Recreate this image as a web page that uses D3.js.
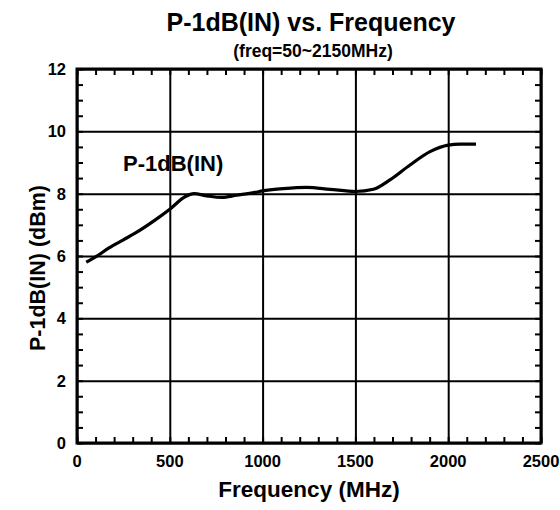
<!DOCTYPE html>
<html>
<head>
<meta charset="utf-8">
<script src="https://cdn.jsdelivr.net/npm/d3@7"></script>
<style>
  body { margin: 0; background: #fff; }
  svg text { font-family: "Liberation Sans", Arial, sans-serif; font-weight: bold; fill: #000; }
</style>
</head>
<body>
<svg id="chart" width="560" height="510"></svg>
<script>
// Curve
const freqs = [50, 100, 170, 250, 313, 420, 500, 582, 630, 700, 780, 860, 959, 1000, 1112, 1237, 1363, 1500, 1597, 1686, 1794, 1902, 2000, 2064, 2150];
const p1db  = [5.8, 5.97, 6.25, 6.52, 6.73, 7.15, 7.5, 7.9, 8.0, 7.93, 7.88, 7.95, 8.04, 8.09, 8.16, 8.2, 8.14, 8.07, 8.14, 8.44, 8.92, 9.35, 9.56, 9.59, 9.59];

const xTicks = [0, 500, 1000, 1500, 2000, 2500];
const yTicks = [0, 2, 4, 6, 8, 10, 12];
const xMinor = d3.range(0, 2501, 100);
const yMinor = d3.range(0, 12.01, 0.5);

const svg = d3.select('#chart');
const m = { left: 77, right: 541, top: 69, bottom: 443 };
const w = m.right - m.left, h = m.bottom - m.top;

const x = d3.scaleLinear().domain([0, 2500]).range([m.left, m.right]);
const y = d3.scaleLinear().domain([0, 12]).range([m.bottom, m.top]);

// Grid lines
svg.append('g')
  .attr('transform', `translate(0, ${m.bottom})`)
  .call(d3.axisBottom(x).tickValues(xTicks).tickSize(-h).tickFormat(''))
  .call(g => g.select('.domain').remove())
  .selectAll('line').attr('stroke', '#000').attr('stroke-width', 2);
svg.append('g')
  .attr('transform', `translate(${m.left}, 0)`)
  .call(d3.axisLeft(y).tickValues(yTicks).tickSize(-w).tickFormat(''))
  .call(g => g.select('.domain').remove())
  .selectAll('line').attr('stroke', '#000').attr('stroke-width', 2);

// Minor ticks on all four sides, pointing inward
function minor(axis, tx, ty) {
  svg.append('g')
    .attr('transform', `translate(${tx}, ${ty})`)
    .call(axis.tickSize(-6).tickFormat(''))
    .call(g => g.select('.domain').remove())
    .selectAll('line').attr('stroke', '#000').attr('stroke-width', 2);
}
minor(d3.axisBottom(x).tickValues(xMinor), 0, m.bottom);
minor(d3.axisTop(x).tickValues(xMinor), 0, m.top);
minor(d3.axisLeft(y).tickValues(yMinor), m.left, 0);
minor(d3.axisRight(y).tickValues(yMinor), m.right, 0);

// Frame
svg.append('rect')
  .attr('x', m.left).attr('y', m.top).attr('width', w).attr('height', h)
  .attr('fill', 'none').attr('stroke', '#000').attr('stroke-width', 3);

// Tick labels
svg.append('g').selectAll('text')
  .data(xTicks).enter().append('text')
    .attr('x', d => x(d)).attr('y', 467)
    .attr('text-anchor', 'middle').style('font-size', '16.5px')
    .text(d => d);
svg.append('g').selectAll('text')
  .data(yTicks).enter().append('text')
    .attr('x', 66).attr('y', d => y(d)).attr('dy', '0.36em')
    .attr('text-anchor', 'end').style('font-size', '16.5px')
    .text(d => d);

// Curve
const line = d3.line().x(d => x(d[0])).y(d => y(d[1])).curve(d3.curveMonotoneX);
svg.append('path')
  .datum(freqs.map((f, i) => [f, p1db[i]]))
  .attr('fill', 'none').attr('stroke', '#000').attr('stroke-width', 3.2)
  .attr('d', line);

// Titles and labels
svg.append('text').attr('x', 311).attr('y', 31).attr('text-anchor', 'middle')
  .style('font-size', '25px').text('P-1dB(IN) vs. Frequency');
svg.append('text').attr('x', 313).attr('y', 57).attr('text-anchor', 'middle')
  .style('font-size', '17.5px').text('(freq=50~2150MHz)');
svg.append('text').attr('x', 309).attr('y', 497).attr('text-anchor', 'middle')
  .style('font-size', '22.5px').text('Frequency (MHz)');
svg.append('text').attr('transform', 'translate(45, 268) rotate(-90)').attr('text-anchor', 'middle')
  .style('font-size', '21.5px').text('P-1dB(IN) (dBm)');
svg.append('text').attr('x', 123).attr('y', 171)
  .style('font-size', '22px').text('P-1dB(IN)');
</script>
</body>
</html>
